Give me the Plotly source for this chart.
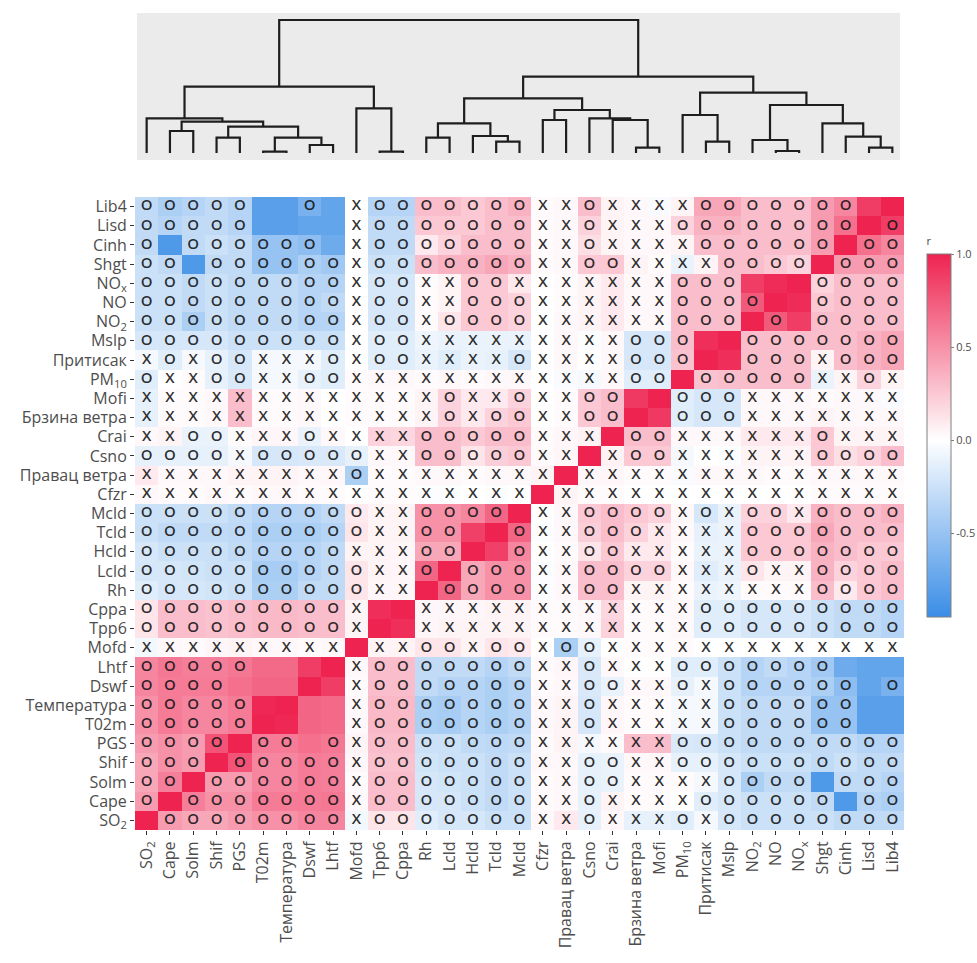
import plotly.graph_objects as go

W, H = 977, 963

labels = ["SO<sub>2</sub>", "Cape", "Solm", "Shif", "PGS", "T02m", "Температура", "Dswf", "Lhtf",
          "Mofd", "Tpp6", "Cppa", "Rh", "Lcld", "Hcld", "Tcld", "Mcld", "Cfzr", "Правац ветра",
          "Csno", "Crai", "Брзина ветра", "Mofi", "PM<sub>10</sub>", "Притисак", "Mslp",
          "NO<sub>2</sub>", "NO", "NO<sub>x</sub>", "Shgt", "Cinh", "Lisd", "Lib4"]

# lower-triangle correlations: r_lower[i][j] = r(var i, var j) for j < i
r_lower = [
    [],
    [0.45],
    [0.40, 0.58],
    [0.40, 0.50, 0.45],
    [0.45, 0.50, 0.45, 0.78],
    [0.50, 0.60, 0.55, 0.55, 0.60],
    [0.50, 0.60, 0.55, 0.55, 0.60, 0.98],
    [0.55, 0.60, 0.60, 0.60, 0.65, 0.70, 0.70],
    [0.55, 0.62, 0.58, 0.58, 0.62, 0.68, 0.68, 0.88],
    [-0.06, 0.03, 0.02, 0.04, 0.05, 0.03, 0.03, 0.02, 0.03],
    [0.12, 0.30, 0.30, 0.28, 0.30, 0.32, 0.32, 0.30, 0.30, 0.05],
    [0.12, 0.30, 0.30, 0.28, 0.30, 0.32, 0.32, 0.30, 0.30, 0.05, 0.95],
    [-0.15, -0.20, -0.20, -0.22, -0.25, -0.40, -0.40, -0.30, -0.30, 0.12, 0.04, 0.04],
    [-0.20, -0.20, -0.22, -0.25, -0.25, -0.42, -0.42, -0.35, -0.30, 0.12, 0.05, 0.04, 0.70],
    [-0.20, -0.25, -0.25, -0.25, -0.30, -0.35, -0.35, -0.35, -0.30, 0.05, 0.05, 0.04, 0.40, 0.40],
    [-0.25, -0.30, -0.30, -0.30, -0.32, -0.40, -0.40, -0.40, -0.35, 0.12, 0.05, 0.05, 0.50, 0.50, 0.87],
    [-0.25, -0.25, -0.25, -0.25, -0.30, -0.35, -0.35, -0.35, -0.30, 0.10, 0.05, 0.05, 0.50, 0.50, 0.55, 0.70],
    [0.03, 0.02, 0.02, 0.03, 0.02, 0.03, 0.03, 0.02, 0.02, 0.00, 0.02, 0.02, -0.02, -0.02, 0.00, -0.02, 0.00],
    [0.10, 0.03, 0.03, 0.03, 0.05, 0.05, 0.05, 0.03, 0.04, -0.40, 0.02, 0.02, 0.03, 0.03, 0.02, 0.03, 0.03, 0.05],
    [-0.12, -0.12, -0.12, -0.12, -0.05, -0.20, -0.20, -0.18, -0.18, -0.12, 0.03, 0.03, 0.30, 0.30, 0.12, 0.22, 0.25, 0.02, 0.04],
    [0.03, 0.05, -0.10, -0.10, 0.02, 0.04, 0.04, -0.10, 0.03, 0.00, 0.20, 0.18, 0.30, 0.30, 0.25, 0.30, 0.30, 0.02, 0.04, 0.06],
    [-0.12, 0.02, 0.02, 0.03, 0.30, 0.02, 0.02, 0.03, 0.00, 0.02, 0.02, 0.02, 0.05, 0.20, 0.10, 0.20, 0.25, 0.00, 0.02, 0.25, 0.30],
    [-0.12, 0.02, 0.02, 0.03, 0.30, 0.02, 0.02, 0.03, 0.00, 0.02, 0.02, 0.02, 0.05, 0.20, 0.10, 0.10, 0.20, 0.00, 0.02, 0.25, 0.30, 0.90],
    [-0.15, 0.00, 0.02, -0.12, -0.18, -0.05, -0.05, -0.12, -0.15, 0.02, 0.03, 0.03, 0.02, 0.03, 0.02, 0.03, 0.03, 0.00, -0.03, -0.05, 0.03, -0.15, -0.15],
    [-0.05, -0.15, -0.05, -0.12, -0.20, -0.05, -0.05, -0.05, -0.15, 0.00, -0.15, -0.15, -0.10, -0.15, -0.10, -0.12, -0.20, 0.00, 0.03, 0.00, 0.03, -0.20, -0.20, 0.28],
    [-0.20, -0.20, -0.20, -0.20, -0.25, -0.25, -0.25, -0.25, -0.25, 0.00, -0.15, -0.15, -0.08, -0.10, -0.10, -0.10, -0.10, 0.00, 0.03, -0.02, 0.03, -0.20, -0.20, 0.30, 0.95],
    [-0.25, -0.25, -0.40, -0.25, -0.30, -0.30, -0.30, -0.35, -0.35, 0.00, -0.20, -0.20, 0.02, 0.12, 0.25, 0.25, 0.20, 0.00, 0.03, 0.05, 0.10, 0.03, 0.03, 0.30, 0.30, 0.30],
    [-0.25, -0.25, -0.30, -0.25, -0.30, -0.30, -0.30, -0.35, -0.30, 0.00, -0.20, -0.20, 0.02, 0.05, 0.25, 0.25, 0.20, 0.00, 0.02, 0.05, 0.10, 0.03, 0.03, 0.30, 0.30, 0.30, 0.75],
    [-0.25, -0.25, -0.30, -0.25, -0.30, -0.30, -0.30, -0.35, -0.35, 0.00, -0.20, -0.20, 0.02, 0.05, 0.25, 0.25, 0.10, 0.00, 0.02, 0.05, 0.10, 0.03, 0.03, 0.30, 0.30, 0.30, 0.88, 0.96],
    [-0.25, -0.30, -0.85, -0.30, -0.30, -0.50, -0.50, -0.40, -0.45, 0.00, -0.25, -0.25, 0.30, 0.35, 0.35, 0.40, 0.35, 0.02, 0.03, 0.25, 0.25, 0.05, 0.02, -0.10, 0.05, 0.30, 0.30, 0.25, 0.20],
    [-0.30, -0.85, -0.30, -0.25, -0.30, -0.50, -0.50, -0.55, -0.70, 0.00, -0.30, -0.30, 0.10, 0.20, 0.30, 0.30, 0.30, 0.02, 0.03, 0.15, 0.05, 0.03, 0.03, 0.05, 0.30, 0.30, 0.30, 0.30, 0.30, 0.45],
    [-0.30, -0.35, -0.30, -0.30, -0.35, -0.80, -0.80, -0.75, -0.75, 0.00, -0.30, -0.30, 0.25, 0.25, 0.25, 0.30, 0.30, 0.02, 0.03, 0.20, 0.05, 0.03, 0.03, 0.20, 0.35, 0.35, 0.30, 0.30, 0.30, 0.45, 0.65],
    [-0.30, -0.40, -0.35, -0.30, -0.35, -0.80, -0.80, -0.65, -0.75, 0.00, -0.35, -0.35, 0.30, 0.30, 0.25, 0.30, 0.35, 0.02, 0.03, 0.30, 0.05, 0.03, -0.03, 0.05, 0.40, 0.40, 0.30, 0.30, 0.30, 0.45, 0.55, 0.88],
]

# significance marks per row (variable order): O / X, '-' no mark, 'D' diagonal
marks = [
    "DOOOOOOOOXOOOOOOOXXOXXXOXOOOOOOOO",
    "ODOOOOOOOXOOOOOOOXXOXXXXOOOOOO-OO",
    "OODOOOOOOXOOOOOOOXXOOXXXXOOOO-OOO",
    "OOODOOOOOXOOOOOOOXXOOXXOOOOOOOOOO",
    "OOOODOO-OXOOOOOOOXXXXXXOOOOOOOOOO",
    "OOOOOD---XOOOOOOOXXOXXXXXOOOOOO--",
    "OOOOO-D--XOOOOOOOXXOXXXXXOOOOOO--",
    "OOOO---D-XOOOOOOOXXOOXXOXOOOOOO-O",
    "OOOOO---DXOOOOOOOXXOXXXOOOOOOO---",
    "XXXXXXXXXDXXOOXOOXOOXXXXXXXXXXXXX",
    "OOOOOOOOOXD-XXXXXXXXXXXXOOOOOOOOO",
    "OOOOOOOOOX-DXXXXXXXXXXXXOOOOOOOOO",
    "OOOOOOOOOOXXDOOOOXXOOXXXXXXXXOOOO",
    "OOOOOOOOOOXXODOOOXXOOOOXXXOXXOOOO",
    "OOOOOOOOOXXXOOD-OXXOOXXXXXOOOOOOO",
    "OOOOOOOOOOXXOO-DOXXOOOXXXXOOOOOOO",
    "OOOOOOOOOOXXOOOODXXOOOOXOXOOXOOOO",
    "XXXXXXXXXXXXXXXXXDXXXXXXXXXXXXXXX",
    "XXXXXXXXXOXXXXXXXXDXXXXXXXXXXXXXX",
    "OOOOXOOOOOXXOOOOOXXDXOOXXXXXXOOOO",
    "XXOOXXXOXXXXOOOOOXXXDOOXXXXXXOXXX",
    "XXXXXXXXXXXXXOXOOXXOOD-OOOXXXXXXX",
    "XXXXXXXXXXXXXOXXOXXOO-DOOOXXXXXXX",
    "OXXOOXXOOXXXXXXXXXXXXOODOOOOOXXOX",
    "XOXOOXXXOXOOXXXXOXXXXOOOD-OOOXOOO",
    "OOOOOOOOOXOOXXXXXXXXXOOO-DOOOOOOO",
    "OOOOOOOOOXOOXOOOOXXXXXXOOODO-OOOO",
    "OOOOOOOOOXOOXXOOOXXXXXXOOOOD-OOOO",
    "OOOOOOOOOXOOXXOOXXXXXXXOOO--DOOOO",
    "OO-OOOOOOXOOOOOOOXXOOXXXXOOOODOOO",
    "O-OOOOOO-XOOOOOOOXXOXXXXOOOOOODOO",
    "OOOOO----XOOOOOOOXXOXXXOOOOOOOODO",
    "OOOOO--O-XOOOOOOOXXOXXXXOOOOOOO-D",
]

# dendrogram merges: (left node, right node, height); nodes >= 33 are earlier merges
merges = [
    (5, 6, 1.3), (10, 11, 1.3), (27, 28, 2.0), (21, 22, 5.3), (31, 32, 5.3),
    (7, 8, 8.0), (15, 16, 11.3), (24, 25, 11.3), (26, 35, 13.0), (3, 4, 15.3),
    (33, 38, 15.3), (12, 13, 15.3), (30, 37, 16.3), (14, 39, 17.0), (1, 2, 22.0),
    (42, 43, 26.3), (44, 46, 29.7), (29, 45, 29.7), (47, 48, 31.3), (17, 18, 33.0),
    (20, 36, 33.0), (0, 51, 34.7), (19, 53, 34.7), (23, 40, 38.0), (52, 55, 43.0),
    (9, 34, 44.7), (41, 50, 48.0), (49, 57, 54.7), (56, 59, 60.3), (54, 58, 66.3),
    (60, 61, 76.3), (62, 63, 133.0),
]

n = len(labels)
z = [[1.0] * n for _ in range(n)]
for i in range(n):
    for j in range(i):
        z[i][j] = r_lower[i][j]
        z[j][i] = r_lower[i][j]

idx = list(range(n))

# marker text positions
tx, ty, tt = [], [], []
for i in range(n):
    row = marks[i]
    for j in range(n):
        c = row[j]
        if c in ("O", "X"):
            tx.append(j)
            ty.append(i)
            tt.append(c)

# dendrogram segments
pos = {k: float(k) for k in range(n)}
hgt = {k: 0.0 for k in range(n)}
dx, dy = [], []
for m, (a, b, h) in enumerate(merges):
    node = n + m
    xa, xb = pos[a], pos[b]
    dx += [xa, xa, xb, xb, None]
    dy += [hgt[a], h, h, hgt[b], None]
    pos[node] = (xa + xb) / 2
    hgt[node] = h

zmin, zmax = -0.95, 1.0
wpos = (0 - zmin) / (zmax - zmin)
colorscale = [[0.0, "#3a8de6"], [wpos, "#ffffff"], [1.0, "#ee2350"]]

font = "Open Sans, Noto Sans, DejaVu Sans, sans-serif"
axcol = "#4d4d4d"

fig = go.Figure()
fig.add_trace(go.Heatmap(
    z=z, x=idx, y=idx, zmin=zmin, zmax=zmax, colorscale=colorscale,
    xgap=0, ygap=0, hoverinfo="skip",
    colorbar=dict(
        title=dict(text="r", side="top", font=dict(size=11, color=axcol, family=font)),
        x=927 / W, xanchor="left", y=(H - 234) / H, yanchor="top",
        len=383, lenmode="pixels", thickness=24, thicknessmode="pixels",
        outlinecolor="#808080", outlinewidth=1, xpad=0, ypad=0,
        tickvals=[-0.5, 0.0, 0.5, 1.0], ticktext=["-0.5", "0.0", "0.5", "1.0"],
        ticks="outside", ticklen=3, tickcolor="#808080",
        tickfont=dict(size=11, color=axcol, family=font),
    ),
))
fig.add_trace(go.Scatter(
    x=tx, y=ty, text=tt, mode="text", hoverinfo="skip", showlegend=False,
    textfont=dict(size=15, color="rgba(20,20,20,0.9)", family=font, weight=600),
))
fig.add_trace(go.Scatter(
    x=dx, y=dy, mode="lines", xaxis="x2", yaxis="y2", hoverinfo="skip", showlegend=False,
    line=dict(color="#1e1e1e", width=2.2),
))

xdom = [135 / W, 904 / W]
fig.update_layout(
    width=W, height=H, margin=dict(l=0, r=0, t=0, b=0),
    paper_bgcolor="white", plot_bgcolor="white", showlegend=False,
    xaxis=dict(domain=xdom, range=[-0.5, n - 0.5], tickvals=idx, ticktext=labels,
               tickangle=-90, ticks="outside", ticklen=4, tickcolor="#333333",
               tickfont=dict(size=16, color=axcol, family=font),
               showgrid=False, zeroline=False, showline=False, automargin=False, fixedrange=True),
    yaxis=dict(domain=[(H - 830) / H, (H - 197) / H], range=[-0.5, n - 0.5], tickvals=idx,
               ticktext=labels, ticks="outside", ticklen=4, tickcolor="#333333",
               tickfont=dict(size=16, color=axcol, family=font),
               showgrid=False, zeroline=False, showline=False, automargin=False, fixedrange=True),
    xaxis2=dict(domain=xdom, range=[-0.5, n - 0.5], visible=False, anchor="y2"),
    yaxis2=dict(domain=[(H - 160) / H, (H - 13) / H], range=[-7, 140], visible=False, anchor="x2"),
    shapes=[dict(type="rect", xref="paper", yref="paper", x0=137 / W, x1=900 / W,
                 y0=(H - 160) / H, y1=(H - 13) / H, fillcolor="#ebebeb", line=dict(width=0),
                 layer="below")],
)

fig.write_html("out.html")
